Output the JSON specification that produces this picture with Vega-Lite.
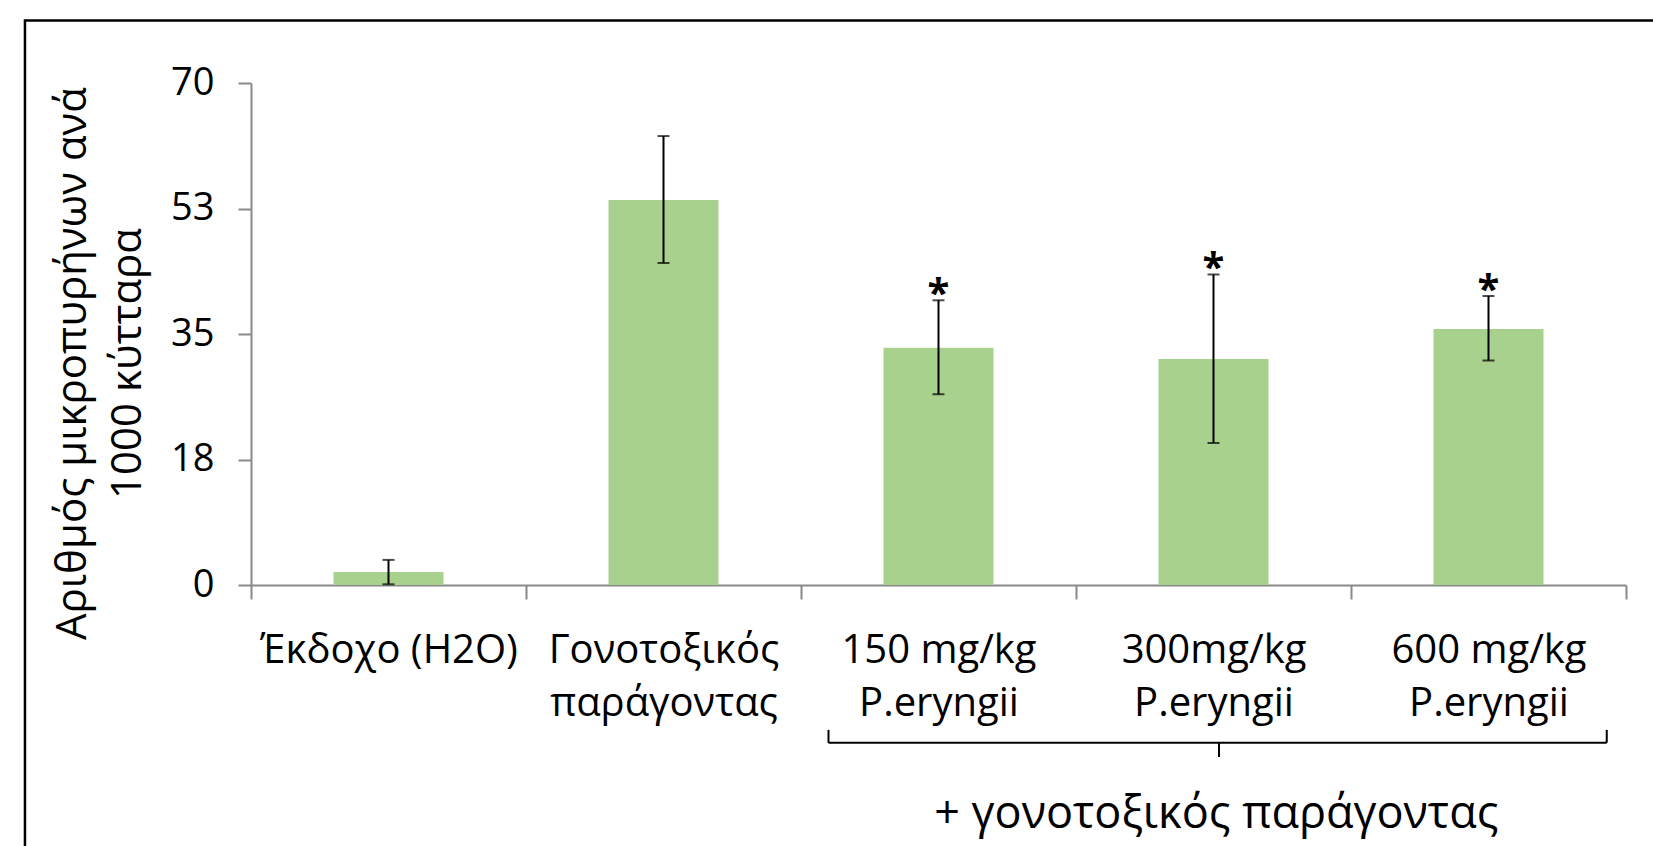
{
  "$schema": "https://vega.github.io/schema/vega-lite/v6.json",
  "width": 1375,
  "height": 502,
  "autosize": {"type": "none"},
  "padding": {"left": 251, "top": 83, "right": 27, "bottom": 261},
  "background": "white",
  "config": {"view": {"stroke": null}, "font": "Open Sans"},
  "layer": [
    {
      "data": {"values": [
        {"group": "Έκδοχο (H2O)", "mean": 1.8, "lo": 0.1, "hi": 3.5, "sig": ""},
        {"group": "Γονοτοξικός\nπαράγοντας", "mean": 53.7, "lo": 44.9, "hi": 62.6, "sig": ""},
        {"group": "150 mg/kg\nP.eryngii", "mean": 33.1, "lo": 26.6, "hi": 39.7, "sig": "*"},
        {"group": "300mg/kg\nP.eryngii", "mean": 31.5, "lo": 19.8, "hi": 43.3, "sig": "*"},
        {"group": "600 mg/kg\nP.eryngii", "mean": 35.7, "lo": 31.3, "hi": 40.3, "sig": "*"}
      ]},
      "encoding": {
        "x": {
          "field": "group", "type": "nominal", "sort": null,
          "scale": {"paddingInner": 0, "paddingOuter": 0},
          "axis": {
            "title": null, "tickBand": "extent",
            "domainColor": "#898989", "domainWidth": 2,
            "tickColor": "#898989", "tickWidth": 2, "tickSize": 14,
            "labelFont": "Open Sans", "labelFontSize": 40, "labelColor": "black",
            "labelAngle": 0, "labelPadding": 31, "labelLineHeight": 53,
            "labelLimit": 0, "labelOverlap": false, "labelBound": false,
            "labelExpr": "split(datum.label, '\\n')"
          }
        }
      },
      "layer": [
        {
          "mark": {"type": "bar", "color": "#A9D18E", "width": {"band": 0.4}},
          "encoding": {
            "y": {
              "field": "mean", "type": "quantitative",
              "scale": {"domain": [0, 70], "nice": false},
              "axis": {
                "values": [0, 17.5, 35, 52.5, 70],
                "labelExpr": "round(datum.value)",
                "grid": false,
                "domainColor": "#898989", "domainWidth": 2,
                "tickColor": "#898989", "tickWidth": 2, "tickSize": 13,
                "labelFont": "Open Sans", "labelFontSize": 38, "labelColor": "black",
                "labelPadding": 24,
                "title": ["Αριθμός μικροπυρήνων ανά", "1000 κύτταρα"],
                "titleFont": "Open Sans", "titleFontSize": 42, "titleFontWeight": "normal",
                "titleColor": "black", "titleLineHeight": 55,
                "titleAngle": -90, "titleAlign": "center", "titleBaseline": "alphabetic",
                "titleX": -166, "titleY": 280
              }
            }
          }
        },
        {
          "mark": {"type": "rule", "color": "black", "strokeWidth": 2},
          "encoding": {
            "y": {"field": "lo", "type": "quantitative", "scale": {"domain": [0, 70], "nice": false}},
            "y2": {"field": "hi"}
          }
        },
        {
          "mark": {"type": "tick", "color": "black", "thickness": 2, "size": 12},
          "encoding": {
            "y": {"field": "lo", "type": "quantitative", "scale": {"domain": [0, 70], "nice": false}}
          }
        },
        {
          "mark": {"type": "tick", "color": "black", "thickness": 2, "size": 12},
          "encoding": {
            "y": {"field": "hi", "type": "quantitative", "scale": {"domain": [0, 70], "nice": false}}
          }
        },
        {
          "mark": {"type": "text", "font": "Open Sans", "fontSize": 40, "fontWeight": "bold", "color": "black", "baseline": "alphabetic", "align": "center", "dy": 7},
          "encoding": {
            "y": {"field": "hi", "type": "quantitative", "scale": {"domain": [0, 70], "nice": false}},
            "text": {"field": "sig"}
          }
        }
      ]
    },
    {
      "layer": [
        {
          "data": {"values": [
            {"x": 2.1, "x2": 4.93, "y": -22, "y2": -22},
            {"x": 2.1, "x2": 2.1, "y": -20.2, "y2": -22},
            {"x": 4.93, "x2": 4.93, "y": -20.2, "y2": -22},
            {"x": 3.52, "x2": 3.52, "y": -22, "y2": -24}
          ]},
          "mark": {"type": "rule", "color": "black", "strokeWidth": 2},
          "encoding": {
            "x": {"field": "x", "type": "quantitative", "scale": {"domain": [0, 5], "nice": false, "zero": false}, "axis": null},
            "x2": {"field": "x2"},
            "y": {"field": "y", "type": "quantitative", "scale": {"domain": [0, 70], "nice": false}},
            "y2": {"field": "y2"}
          }
        },
        {
          "data": {"values": [{"x": 3.51, "y": -33.9, "label": "+ γονοτοξικός παράγοντας"}]},
          "mark": {"type": "text", "font": "Open Sans", "fontSize": 45, "color": "black", "align": "center", "baseline": "alphabetic"},
          "encoding": {
            "x": {"field": "x", "type": "quantitative", "scale": {"domain": [0, 5], "nice": false, "zero": false}, "axis": null},
            "y": {"field": "y", "type": "quantitative", "scale": {"domain": [0, 70], "nice": false}},
            "text": {"field": "label"}
          }
        },
        {
          "data": {"values": [{"x": -0.822, "x2": 6, "y": 78.72, "y2": -60}]},
          "mark": {"type": "rect", "fillOpacity": 0, "stroke": "black", "strokeWidth": 2.5},
          "encoding": {
            "x": {"field": "x", "type": "quantitative", "scale": {"domain": [0, 5], "nice": false, "zero": false}, "axis": null},
            "x2": {"field": "x2"},
            "y": {"field": "y", "type": "quantitative", "scale": {"domain": [0, 70], "nice": false}},
            "y2": {"field": "y2"}
          }
        }
      ]
    }
  ],
  "resolve": {"scale": {"x": "independent"}}
}
